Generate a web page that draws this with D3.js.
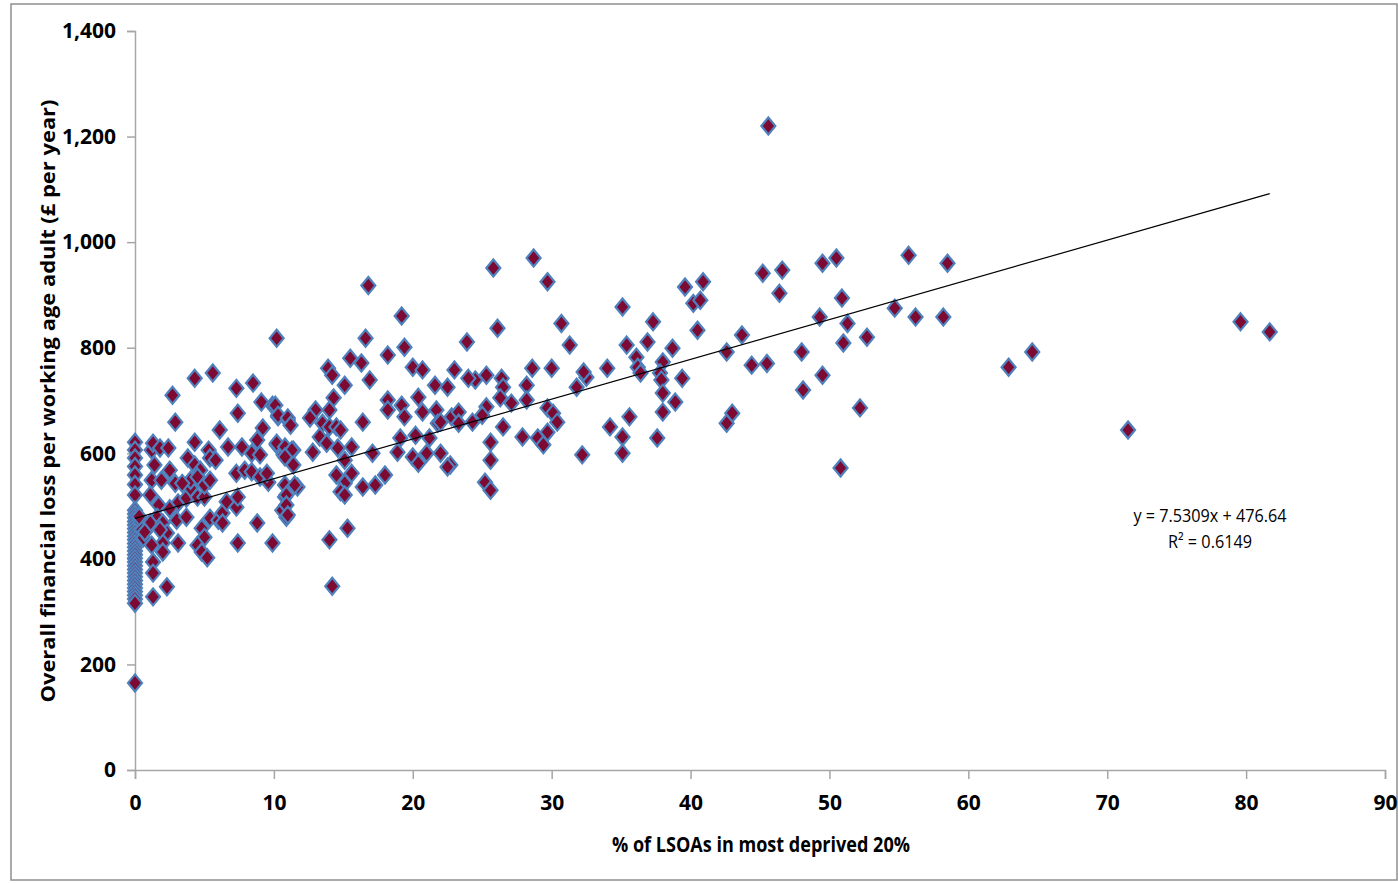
<!DOCTYPE html>
<html>
<head>
<meta charset="utf-8">
<script src="https://cdn.jsdelivr.net/npm/d3@7"></script>
<style>
  body { margin: 0; background: #fff; }
  svg { display: block; }
</style>
</head>
<body>
<svg id="chart" width="1398" height="883"></svg>
<script>
// % of LSOAs in most deprived 20% (x) and overall loss per working age adult (y)
var pctDeprived = [
  0, 0, 0, 0, 0, 0, 0,
  0, 0, 0, 0, 0, 0, 0, 0, 0, 0, 0, 0, 0, 0, 0, 0, 0, 0, 0, 0, 0, 0, 0, 0, 0, 0, 0,
  0.4, 0.5, 0.6, 0.3, 0.7,
  1.2, 1.3, 1.8, 2.4, 1.4, 1.2, 1.9, 2.5, 2.9, 1.1, 1.7, 1.6, 1.1, 0.7, 2.0, 2.3, 2.0, 2.0, 1.2, 1.3,
  1.3, 2.3, 1.3, 3.0, 3.1, 3.7, 3.1, 3.7, 4.0, 4.5, 5.0, 4.8, 5.0, 4.5, 4.8, 5.2, 5.4, 6.0, 6.3, 6.6,
  6.3, 7.4, 7.3, 7.4, 8.8, 9.9, 10.6, 10.8, 10.9, 10.8,
  4.3, 5.6, 2.7, 2.9, 7.3, 8.5, 9.1, 7.4, 9.9, 10.3, 11.0, 6.1, 9.2, 4.3, 5.3, 6.7, 7.7, 8.8, 8.4, 9.0,
  10.2, 10.7, 11.4, 3.8, 4.3, 4.7, 4.0, 3.4, 4.5, 5.0, 5.4, 5.4, 5.8, 7.3, 7.9, 8.4, 9.0, 9.6, 9.5, 11.7,
  10.9, 10.9, 11.0, 2.5, 1.8,
  10.2, 16.6, 19.4, 18.2, 15.5, 16.3, 13.9, 14.2, 16.9, 15.1, 20.0, 20.7, 23.0, 23.9, 21.6, 22.5, 14.3, 14.0, 13.0, 12.6,
  13.5, 14.0, 13.3, 13.8, 14.5, 14.8, 16.4, 10.1, 10.3, 11.0, 11.2, 18.2, 18.2, 19.2, 19.4, 20.4, 20.7, 21.7, 21.8, 22.8,
  23.3, 20.2, 21.2, 19.1, 18.9, 20.0, 20.4, 21.0, 22.0, 22.7, 17.1, 15.6, 14.6, 12.8, 15.1, 14.5, 15.6, 15.1, 14.8, 15.1,
  16.4, 17.3, 18.0, 10.2, 10.8, 11.3, 10.8, 11.4, 11.5, 15.3, 14.0, 14.2, 16.8, 19.2,
  25.8, 28.7, 29.7, 26.1, 30.7, 31.3, 35.1, 37.3, 35.4, 36.9, 38.7, 39.6, 40.2, 40.5, 36.1, 36.2, 36.4, 38.0, 37.8, 37.9,
  38.0, 38.0, 39.4, 38.9, 35.6, 34.2, 35.1, 35.1, 37.6, 34.0, 32.5, 32.3, 31.8, 32.2, 30.0, 28.6, 28.2, 28.2, 26.4, 26.5,
  26.3, 27.1, 25.3, 24.5, 24.0, 25.3, 25.0, 24.3, 23.3, 26.5, 25.6, 25.6, 22.5, 25.2, 25.6, 27.9, 29.7, 30.1, 30.4, 29.7,
  29.0, 29.4, 22.0,
  40.9, 40.7, 45.2, 46.6, 46.4, 49.5, 50.5, 55.7, 58.5, 50.9, 49.3, 51.3, 51.0, 52.7, 54.7, 56.2, 58.2, 43.7, 42.6, 44.4,
  45.5, 48.0, 49.5, 48.1, 52.2, 43.0, 42.6, 50.8, 45.6, 62.9, 64.6, 71.5, 79.6, 81.7
];
var lossPerAdult = [
  621, 606, 591, 575, 559, 541, 521,
  492, 485, 478, 471, 464, 457, 450, 443, 436, 429, 422, 415, 408, 401, 394, 387, 380, 373, 366, 359, 352, 345, 338, 331, 324, 316, 165,
  470, 455, 440, 480, 451,
  606, 619, 610, 610, 578, 549, 549, 568, 543, 521, 502, 479, 468, 451, 468, 449, 430, 413, 426, 394,
  373, 347, 328, 473, 430, 479, 506, 515, 534, 517, 517, 458, 441, 426, 413, 402, 477, 473, 487, 508,
  468, 430, 498, 517, 468, 430, 492, 517, 479, 540,
  742, 752, 710, 659, 723, 733, 697, 676, 691, 669, 663, 644, 648, 621, 606, 612, 612, 625, 600, 597,
  616, 597, 606, 591, 578, 568, 549, 543, 555, 540, 549, 591, 587, 562, 568, 565, 555, 545, 562, 536,
  521, 502, 483, 495, 455,
  818, 818, 801, 786, 780, 771, 761, 748, 739, 729, 763, 758, 758, 811, 729, 725, 705, 682, 682, 667,
  657, 650, 631, 619, 650, 644, 659, 691, 672, 667, 653, 701, 682, 691, 669, 706, 678, 682, 657, 669,
  678, 634, 629, 629, 602, 593, 581, 600, 600, 578, 600, 612, 610, 602, 587, 559, 562, 543, 527, 521,
  536, 540, 559, 619, 612, 606, 593, 578, 540, 458, 436, 348, 918, 860,
  951, 970, 925, 837, 846, 805, 877, 849, 805, 811, 799, 915, 884, 833, 782, 763, 752, 773, 752, 739,
  714, 678, 742, 697, 669, 650, 631, 600, 629, 761, 744, 754, 725, 597, 761, 761, 729, 701, 742, 725,
  705, 695, 748, 739, 742, 688, 672, 659, 657, 650, 621, 587, 574, 545, 530, 631, 686, 676, 659, 640,
  629, 616, 659,
  925, 890, 941, 947, 903, 960, 970, 975, 960, 894, 858, 846, 809, 820, 875, 858, 858, 824, 792, 767,
  770, 792, 748, 720, 686, 676, 657, 572, 1220, 763, 792, 644, 849, 830
];
var xTicks = [0, 10, 20, 30, 40, 50, 60, 70, 80, 90];
var yTicks = [0, 200, 400, 600, 800, 1000, 1200, 1400];
var slope = 7.5309;
var intercept = 476.64;
var rSquared = 0.6149;

function drawChart() {
    var svg = d3.select('#chart');
    var fontFam = "'Liberation Sans Narrow', 'Arial Narrow', 'Open Sans', sans-serif";
    var axisGray = "#a6a6a6";

    // outer frame
    svg.append('rect')
        .attr('x', 11).attr('y', 4)
        .attr('width', 1386).attr('height', 876)
        .attr('fill', 'none')
        .attr('stroke', '#8f8f8f')
        .attr('stroke-width', 1.5);

    var x = d3.scaleLinear().domain([0, 90]).range([135, 1385]);
    var y = d3.scaleLinear().domain([0, 1400]).range([770, 31]);

    // y axis
    var yAxis = svg.append('g')
        .attr('transform', 'translate(' + x(0) + ',0)')
        .call(d3.axisLeft(y).tickValues(yTicks).tickFormat(d3.format(',')).tickSize(8).tickPadding(11));
    // x axis
    var xAxis = svg.append('g')
        .attr('transform', 'translate(0,' + y(0) + ')')
        .call(d3.axisBottom(x).tickValues(xTicks).tickSize(9).tickPadding(16));

    [xAxis, yAxis].forEach(function (g) {
        g.select('.domain').attr('stroke', axisGray).attr('stroke-width', 1.5);
        g.selectAll('.tick line').attr('stroke', axisGray).attr('stroke-width', 1.5);
        g.selectAll('.tick text')
            .attr('fill', '#000')
            .attr('font-family', fontFam)
            .attr('font-weight', 'bold')
            .attr('font-size', '21px');
    });

    // points
    var hw = 7, hh = 8.5;
    var diamond = 'M0,' + (-hh) + 'L' + hw + ',0L0,' + hh + 'L' + (-hw) + ',0Z';
    var pts = pctDeprived.map(function (v, i) { return [v, lossPerAdult[i]]; });
    svg.append('g').selectAll('path')
        .data(pts)
        .enter().append('path')
        .attr('d', diamond)
        .attr('transform', function (d) { return 'translate(' + x(d[0]) + ',' + y(d[1]) + ')'; })
        .attr('fill', '#7d0a32')
        .attr('stroke', '#4f81bd')
        .attr('stroke-width', 2.2);

    // trend line
    var xMax = d3.max(pctDeprived);
    svg.append('line')
        .attr('x1', x(0)).attr('y1', y(intercept))
        .attr('x2', x(xMax)).attr('y2', y(slope * xMax + intercept))
        .attr('stroke', '#000')
        .attr('stroke-width', 1.2);

    // equation
    svg.append('text')
        .text('y = ' + slope + 'x + ' + intercept)
        .attr('x', 1210).attr('y', 522)
        .attr('text-anchor', 'middle')
        .attr('font-family', fontFam)
        .attr('font-size', '18px')
        .attr('textLength', 153)
        .attr('lengthAdjust', 'spacingAndGlyphs');
    svg.append('text')
        .text('R\u00B2 = ' + rSquared)
        .attr('x', 1210).attr('y', 548)
        .attr('text-anchor', 'middle')
        .attr('font-family', fontFam)
        .attr('font-size', '18px')
        .attr('textLength', 84)
        .attr('lengthAdjust', 'spacingAndGlyphs');

    // axis titles
    svg.append('text')
        .text('% of LSOAs in most deprived 20%')
        .attr('x', 761).attr('y', 852)
        .attr('text-anchor', 'middle')
        .attr('font-family', fontFam)
        .attr('font-weight', 'bold')
        .attr('font-size', '21px')
        .attr('textLength', 298)
        .attr('lengthAdjust', 'spacingAndGlyphs');
    svg.append('text')
        .text('Overall financial loss per working age adult (\u00A3 per year)')
        .attr('transform', 'translate(55,401) rotate(-90)')
        .attr('text-anchor', 'middle')
        .attr('font-family', fontFam)
        .attr('font-weight', 'bold')
        .attr('font-size', '20px')
        .attr('textLength', 603)
        .attr('lengthAdjust', 'spacingAndGlyphs');
}

window.onload = drawChart;
</script>
</body>
</html>
